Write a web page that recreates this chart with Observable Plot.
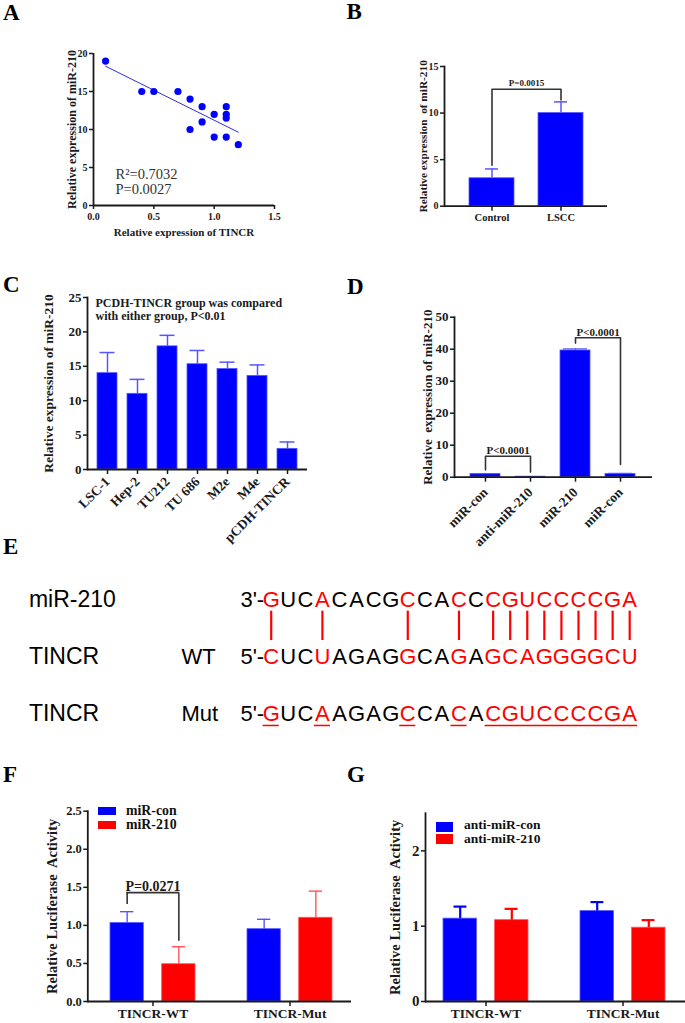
<!DOCTYPE html>
<html><head><meta charset="utf-8">
<script src="https://cdn.jsdelivr.net/npm/d3@7"></script>
<script src="https://cdn.jsdelivr.net/npm/@observablehq/plot@0.6"></script>
<style>
body{margin:0;background:#fff;}
#root{position:relative;width:685px;height:1023px;overflow:hidden;background:#fff;font-family:'Liberation Serif','Times New Roman',serif;}
.letter{position:absolute;font-weight:bold;font-size:23px;line-height:1;color:#000;}
.leg{position:absolute;font-weight:bold;line-height:0.8;color:#111;white-space:nowrap;}
.sw{position:absolute;}
</style></head><body><div id="root"></div>
<script>
// ---------- data ----------
// A: scatter
const aTincr = [0.1,0.4,0.5,0.7,0.8,0.8,0.9,0.9,1.0,1.0,1.1,1.1,1.1,1.1,1.2];
const aMir   = [19,15,15,15,14,10,13,11,12,9,13,12,11.5,9,8];
const aXTicks = [0,0.5,1,1.5];
const aYTicks = [0,5,10,15,20];
const aStats = ["R\u00b2=0.7032","P=0.0027"];
// B
const bGroups = ["Control","LSCC"];
const bMeans = [3,10];
const bSD = [1.0,1.2];
const bYTicks = [0,5,10,15];
const bP = "P=0.0015";
const bBracket = {from:"Control", to:"LSCC", top:12.55, leftEnd:4.4, rightEnd:11.4, label:13.2};
// C
const cGroups = ["LSC-1","Hep-2","TU212","TU 686","M2e","M4e","pCDH-TINCR"];
const cMeans = [14.0,11.0,17.9,15.3,14.6,13.6,3.0];
const cSD = [3.0,2.1,1.6,2.0,1.0,1.6,1.0];
const cYTicks = [0,5,10,15,20,25];
const cNote = "PCDH-TINCR group was compared\nwith either group, P<0.01";
// D
const dGroups = ["miR-con","anti-miR-210","miR-210","miR-con"];
const dMeans = [1.0,0.15,39.6,1.0];
const dSD = [0.12,0.05,0.5,0.2];
const dYTicks = [0,10,20,30,40,50];
const dBrackets = [
  {from:0, to:1, top:6.56, leftEnd:2.3, rightEnd:1.6, label:8.3, text:"P<0.0001"},
  {from:2, to:3, top:43.6, leftEnd:41.9, rightEnd:4.0, label:45.3, text:"P<0.0001"}
];
// E
const eRows = ["miR-210","TINCR","TINCR"];
const eRowTags = ["","WT","Mut"];
const ePrefixes = ["3'-","5'-","5'-"];
const eSeqs = ["GUCACACGCCACCCGUCCCCGA","CUCUAGAGGCAGAGCAGGGGCU","GUCAAGAGCCACACGUCCCCGA"];
const eRedIdx = [1,4,9,12,14,15,16,17,18,19,20,21,22];
const ePairIdx = [1,4,9,12,14,15,16,17,18,19,20,21,22];
// F
const fGroups = ["TINCR-WT","TINCR-Mut"];
const fSeries = ["miR-con","miR-210"];
const fCon = [1.03,0.95];
const fConSD = [0.15,0.13];
const f210 = [0.49,1.10];
const f210SD = [0.23,0.35];
const fYTicks = [0,0.5,1,1.5,2,2.5];
const fP = "P=0.0271";
const fBracket = {group:"TINCR-WT", top:1.43, leftEnd:1.275, rightEnd:0.79, label:1.515};
// G
const gGroups = ["TINCR-WT","TINCR-Mut"];
const gSeries = ["anti-miR-con","anti-miR-210"];
const gCon = [1.10,1.20];
const gConSD = [0.16,0.12];
const gAnti = [1.08,0.98];
const gAntiSD = [0.15,0.10];
const gYTicks = [0,1,2];

// ---------- styles ----------
const BLUE="#0000ff", RED="#ff0000", BLUE_E="#5555ff", RED_E="#ff5555", AX="#1a1a1a", BR="#333333";
const SERIF="'Liberation Serif','Times New Roman',serif";
const SANS="'Liberation Sans',Arial,Helvetica,sans-serif";
const root = document.getElementById("root");
function place(node,left,top,w,h){
  const d=document.createElement("div");
  d.style.cssText=`position:absolute;left:${left}px;top:${top}px;width:${w}px;height:${h}px;`;
  d.appendChild(node); root.appendChild(d);
}
function st(fs){return {fontFamily:SERIF,fontWeight:"bold",fontSize:fs+"px",background:"none",color:AX,overflow:"visible"};}
function bracketPts(b){return [{x:b.from,y:b.leftEnd},{x:b.from,y:b.top},{x:b.to,y:b.top},{x:b.to,y:b.rightEnd}];}
function yTitle(t,dx,fs){return Plot.text([t],{frameAnchor:"left",dx,rotate:-90,textAnchor:"middle",lineAnchor:"middle",fontSize:fs});}

// ---------- A ----------
const aData = aTincr.map((x,i)=>({x,y:aMir[i]}));
place(Plot.plot({
  width:340,height:260,marginLeft:93,marginRight:66,marginTop:53,marginBottom:55,
  style:st(10),
  x:{domain:[0,1.5]}, y:{domain:[0,20]},
  marks:[
    Plot.linearRegressionY(aData,{x:"x",y:"y",stroke:"#2b2bff",strokeWidth:1,ci:0}),
    Plot.dot(aData,{x:"x",y:"y",r:3.6,fill:BLUE,stroke:null}),
    Plot.text([aStats.join("\n")],{frameAnchor:"bottom-left",dx:22,dy:-37,textAnchor:"start",lineAnchor:"top",lineHeight:1.03,fontWeight:"normal",fontSize:14.5,fill:"#333"}),
    Plot.axisY({ticks:aYTicks,tickSize:4,tickPadding:2,label:null,strokeWidth:1.5,fontSize:10}),
    Plot.axisX({ticks:aXTicks,tickFormat:d3.format(".1f"),tickSize:4,tickPadding:3,label:null,strokeWidth:1.5,fontSize:10}),
    Plot.ruleX([0],{stroke:AX,strokeWidth:1.8}),
    Plot.ruleY([0],{stroke:AX,strokeWidth:1.8}),
    yTitle("Relative expression of miR-210",-21,12),
    Plot.text(["Relative expression of TINCR"],{frameAnchor:"bottom",dy:30,textAnchor:"middle",fontSize:11})
  ]
}),0,0,340,260);

// ---------- B ----------
const bData = bGroups.map((g,i)=>({g,m:bMeans[i],e:bMeans[i]+bSD[i]}));
const bStep = 163/(2-0.348+2*0.355);
place(Plot.plot({
  width:345,height:260,marginLeft:104,marginRight:78,marginTop:66,marginBottom:54.3,
  style:st(10),
  x:{domain:bGroups,paddingInner:0.348,paddingOuter:0.355}, y:{domain:[0,15]},
  marks:[
    Plot.barY(bData,{x:"g",y:"m",fill:BLUE,stroke:BLUE_E,strokeWidth:0.8}),
    Plot.ruleX(bData,{x:"g",y1:"m",y2:"e",stroke:BLUE_E,strokeWidth:1.5}),
    Plot.tickY(bData,{x:"g",y:"e",stroke:BLUE_E,strokeWidth:1.5,insetLeft:16,insetRight:16}),
    Plot.line(bracketPts(bBracket),{x:"x",y:"y",stroke:BR,strokeWidth:1.6}),
    Plot.text([bP],{x:()=>bBracket.from,y:bBracket.label,dx:bStep/2,fontSize:9}),
    Plot.axisY({ticks:bYTicks,tickSize:4,tickPadding:2,label:null,strokeWidth:1.5,fontSize:10}),
    Plot.axisX({tickSize:5,tickPadding:2,label:null,strokeWidth:1.5,fontSize:10.5}),
    Plot.frame({anchor:"left",stroke:AX,strokeWidth:1.8}),
    Plot.ruleY([0],{stroke:AX,strokeWidth:1.8}),
    yTitle("Relative expression\u00a0 of miR-210",-20.7,11.3)
  ]
}),340,0,345,260);

// ---------- C ----------
const cData = cGroups.map((g,i)=>({g,m:cMeans[i],e:cMeans[i]+cSD[i]}));
place(Plot.plot({
  width:340,height:285,marginLeft:87,marginRight:33,marginTop:27,marginBottom:86,
  style:st(12),
  x:{domain:cGroups,paddingInner:0.326,paddingOuter:0.317}, y:{domain:[0,25]},
  marks:[
    Plot.barY(cData,{x:"g",y:"m",fill:BLUE,stroke:BLUE_E,strokeWidth:0.8}),
    Plot.ruleX(cData,{x:"g",y1:"m",y2:"e",stroke:BLUE_E,strokeWidth:1.5}),
    Plot.tickY(cData,{x:"g",y:"e",stroke:BLUE_E,strokeWidth:1.5,insetLeft:2.5,insetRight:2.5}),
    Plot.text([cNote],{frameAnchor:"top-left",dx:8,dy:1,textAnchor:"start",lineAnchor:"top",lineHeight:1.03,fontSize:12}),
    Plot.axisY({ticks:cYTicks,tickSize:4,tickPadding:2,label:null,strokeWidth:1.5,fontSize:13}),
    Plot.axisX({tickSize:5,tickPadding:5,tickRotate:-45,label:null,strokeWidth:1.5,fontSize:13.5}),
    Plot.frame({anchor:"left",stroke:AX,strokeWidth:1.8}),
    Plot.ruleY([0],{stroke:AX,strokeWidth:1.8}),
    yTitle("Relative expression of miR-210",-39,13.5)
  ]
}),0,270,340,285);

// ---------- D ----------
const dIdx = dGroups.map((_,i)=>i);
const dData = dIdx.map(i=>({g:i,m:dMeans[i],e:dMeans[i]+dSD[i]}));
const dStep = 198/(4-0.327+2*0.35);
place(Plot.plot({
  width:345,height:285,marginLeft:114,marginRight:33,marginTop:46.7,marginBottom:78.3,
  style:st(12),
  x:{domain:dIdx,paddingInner:0.327,paddingOuter:0.35}, y:{domain:[0,50]},
  marks:[
    Plot.barY(dData,{x:"g",y:"m",fill:BLUE,stroke:BLUE_E,strokeWidth:0.8}),
    Plot.ruleX(dData,{x:"g",y1:"m",y2:"e",stroke:BLUE_E,strokeWidth:1.2}),
    Plot.tickY(dData,{x:"g",y:"e",stroke:BLUE_E,strokeWidth:1.2,insetLeft:3,insetRight:3}),
    ...dBrackets.map(b=>Plot.line(bracketPts(b),{x:"x",y:"y",stroke:BR,strokeWidth:1.6})),
    Plot.text(dBrackets,{x:"from",y:"label",text:"text",dx:dStep/2,fontSize:11}),
    Plot.axisY({ticks:dYTicks,tickSize:4,tickPadding:2,label:null,strokeWidth:1.5,fontSize:13}),
    Plot.axisX({tickSize:5,tickPadding:8,tickRotate:-45,tickFormat:i=>dGroups[i],label:null,strokeWidth:1.5,fontSize:13.5}),
    Plot.frame({anchor:"left",stroke:AX,strokeWidth:1.8}),
    Plot.ruleY([0],{stroke:AX,strokeWidth:1.8}),
    yTitle("Relative\u00a0 expression of miR-210",-27,13)
  ]
}),340,270,345,285);

// ---------- E ----------
const letters=[];
eSeqs.forEach((s,r)=>[...s].forEach((ch,i)=>letters.push({r,i:i+1,ch,red:eRedIdx.includes(i+1)})));
const runs=[];
eRedIdx.forEach(i=>{const last=runs[runs.length-1]; if(last&&last[1]===i-1) last[1]=i; else runs.push([i,i]);});
place(Plot.plot({
  width:685,height:160,marginLeft:270.7,marginRight:55.8,marginTop:0,marginBottom:0,
  x:{domain:[1,22],axis:null}, y:{domain:[0,2],range:[19,133],axis:null},
  style:{fontFamily:SANS,fontSize:"22px",background:"none",color:"#000",overflow:"visible"},
  marks:[
    Plot.text(letters.filter(d=>!d.red),{x:"i",y:"r",text:"ch",fill:"#000",fontSize:22}),
    Plot.text(letters.filter(d=>d.red),{x:"i",y:"r",text:"ch",fill:RED,fontSize:22}),
    Plot.text(ePrefixes,{x:()=>1,y:(d,i)=>i,dx:-7,textAnchor:"end",fontSize:22,fill:"#000"}),
    Plot.text(eRows,{frameAnchor:"left",y:(d,i)=>i,dx:-242.3,textAnchor:"start",fontSize:23,fill:"#000"}),
    Plot.text(eRowTags,{frameAnchor:"left",y:(d,i)=>i,dx:-89.7,textAnchor:"start",fontSize:22,fill:"#000"}),
    Plot.ruleX(ePairIdx,{x:d=>d,y1:0.205,y2:0.72,stroke:RED,strokeWidth:2.2}),
    Plot.ruleY(runs,{x1:d=>d[0]-0.47,x2:d=>d[1]+0.47,y:2.21,stroke:RED,strokeWidth:1.5})
  ]
}),0,580,685,160);

// ---------- F ----------
const fData = fGroups.map((g,i)=>({g,a:fCon[i],ae:fCon[i]+fConSD[i],b:f210[i],be:f210[i]+f210SD[i]}));
place(Plot.plot({
  width:352,height:263,marginLeft:87.3,marginRight:1,marginTop:50.7,marginBottom:22,
  style:st(12.5),
  x:{domain:fGroups,paddingInner:0.3763,paddingOuter:0.1478,align:0.542}, y:{domain:[0,2.5]},
  marks:[
    Plot.barY(fData,{x:"g",y:"a",fill:BLUE,stroke:BLUE_E,strokeWidth:0.8,insetRight:51.7}),
    Plot.barY(fData,{x:"g",y:"b",fill:RED,stroke:RED_E,strokeWidth:0.8,insetLeft:51.7}),
    Plot.ruleX(fData,{x:"g",y1:"a",y2:"ae",dx:-25.85,stroke:BLUE_E,strokeWidth:1.4}),
    Plot.tickY(fData,{x:"g",y:"ae",insetLeft:10,insetRight:61.7,stroke:BLUE_E,strokeWidth:1.4}),
    Plot.ruleX(fData,{x:"g",y1:"b",y2:"be",dx:25.85,stroke:RED_E,strokeWidth:1.4}),
    Plot.tickY(fData,{x:"g",y:"be",insetLeft:61.7,insetRight:10,stroke:RED_E,strokeWidth:1.4}),
    Plot.ruleX([fBracket],{x:"group",y1:"leftEnd",y2:"top",dx:-25.85,stroke:BR,strokeWidth:1.6}),
    Plot.ruleX([fBracket],{x:"group",y1:"rightEnd",y2:"top",dx:25.85,stroke:BR,strokeWidth:1.6}),
    Plot.tickY([fBracket],{x:"group",y:"top",insetLeft:16.2,insetRight:16.2,stroke:BR,strokeWidth:1.6}),
    Plot.text([fBracket],{x:"group",y:"label",text:()=>fP,fontSize:14}),
    Plot.axisY({ticks:fYTicks,tickFormat:d3.format(".1f"),tickSize:4,tickPadding:2,label:null,strokeWidth:1.5,fontSize:12.5}),
    Plot.axisX({tickSize:5,tickPadding:2,label:null,strokeWidth:1.5,fontSize:13.5}),
    Plot.frame({anchor:"left",stroke:AX,strokeWidth:1.8}),
    Plot.ruleY([0],{stroke:AX,strokeWidth:1.8}),
    yTitle("Relative Luciferase\u00a0 Activity",-35.6,14.5)
  ]
}),0,760,352,263);

// ---------- G ----------
const gData = gGroups.map((g,i)=>({g,a:gCon[i],ae:gCon[i]+gConSD[i],b:gAnti[i],be:gAnti[i]+gAntiSD[i]}));
place(Plot.plot({
  width:345,height:263,marginLeft:85,marginRight:0,marginTop:52.7,marginBottom:22,
  style:st(15),
  x:{domain:gGroups,paddingInner:0.3765,paddingOuter:0.1351,align:0.477}, y:{domain:[0,2.5]},
  marks:[
    Plot.barY(gData,{x:"g",y:"a",fill:BLUE,stroke:BLUE_E,strokeWidth:0.8,insetRight:51.6}),
    Plot.barY(gData,{x:"g",y:"b",fill:RED,stroke:RED_E,strokeWidth:0.8,insetLeft:51.6}),
    Plot.ruleX(gData,{x:"g",y1:"a",y2:"ae",dx:-25.8,stroke:BLUE,strokeWidth:2.2}),
    Plot.tickY(gData,{x:"g",y:"ae",insetLeft:10.5,insetRight:61.6,stroke:BLUE,strokeWidth:2.2}),
    Plot.ruleX(gData,{x:"g",y1:"b",y2:"be",dx:25.8,stroke:RED,strokeWidth:2.2}),
    Plot.tickY(gData,{x:"g",y:"be",insetLeft:61.6,insetRight:10.5,stroke:RED,strokeWidth:2.2}),
    Plot.axisY({ticks:gYTicks,tickFormat:d3.format("d"),tickSize:4,tickPadding:2,label:null,strokeWidth:1.5,fontSize:15}),
    Plot.axisX({tickSize:5,tickPadding:2,label:null,strokeWidth:1.5,fontSize:13.5}),
    Plot.frame({anchor:"left",stroke:AX,strokeWidth:1.8}),
    Plot.ruleY([0],{stroke:AX,strokeWidth:1.8}),
    yTitle("Relative Luciferase\u00a0 Activity",-30,14.5)
  ]
}),340,760,345,263);

// ---------- legends ----------
function legend(series, colors, left, swTop, swH, labLeft, labCenters, fs, swW){
  series.forEach((s,i)=>{
    const sw=document.createElement("div"); sw.className="sw";
    sw.style.cssText=`left:${left}px;top:${swTop[i]}px;width:${swW}px;height:${swH}px;background:${colors[i]};`;
    root.appendChild(sw);
    const t=document.createElement("div"); t.className="leg"; t.textContent=s;
    t.style.left=labLeft+"px"; t.style.top=(labCenters[i]-0.41*fs)+"px"; t.style.fontSize=fs+"px";
    root.appendChild(t);
  });
}
legend(fSeries,[BLUE,RED],97.7,[807.3,820.7],8.2,126,[811,825],13.8,18);
legend(gSeries,[BLUE,RED],436,[821.7,834],10.4,464,[826,840],13.5,17.3);

// ---------- panel letters ----------
[["A",3,1.4],["B",346.5,0],["C",3,272.7],["D",347,274.7],["E",3,534.7],["F",3,762.7],["G",347,762.7]].forEach(([t,l,tp])=>{
  const d=document.createElement("div"); d.className="letter"; d.textContent=t;
  d.style.left=l+"px"; d.style.top=tp+"px"; root.appendChild(d);
});
</script>
</body></html>
